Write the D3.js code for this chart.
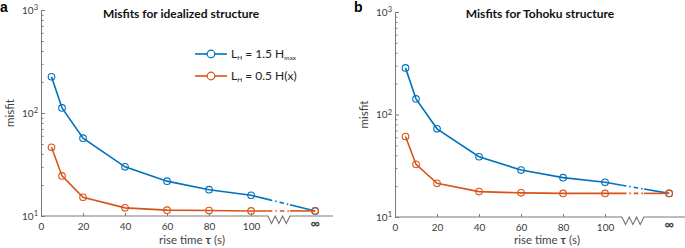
<!DOCTYPE html>
<html>
<head>
<meta charset="utf-8">
<script src="https://cdn.jsdelivr.net/npm/d3@7"></script>
<style>
  body { margin: 0; background: #fff; }
  svg { display: block; font-family: Lato, "Open Sans", sans-serif; }
  .axis text { fill: #3a3a3a; font-size: 10px; font-family: Lato, sans-serif; }
  .axis line { stroke: #7a7a7a; }
  .title { font-size: 12px; font-weight: bold; fill: #111; }
  .label { font-size: 11.5px; fill: #444; }
</style>
</head>
<body>
<div id="chart"></div>
<script>
// x positions (rise time in s); the last point sits at "infinity"
var riseTimes = [5, 10, 20, 40, 60, 80, 100];
var infPos = 130.5;             // where the infinity point is put on the axis
var xTickValues = [0, 20, 40, 60, 80, 100];
var yTickValues = [10, 100, 1000];
var breakRange = [108, 118.5];  // broken part of the x axis

// panel a: idealized structure (last value = infinity)
var idealWide = [225, 112, 57, 30, 21.8, 18, 15.9, 11.2];
var idealLocal = [46.5, 24.5, 15.2, 12, 11.4, 11.3, 11.2, 11.2];
// panel b: Tohoku structure
var tohokuWide = [285, 142, 72.5, 38.7, 28.7, 24.2, 21.8, 17.0];
var tohokuLocal = [61, 32.7, 21.3, 17.7, 17.2, 17.0, 17.0, 17.0];

var seriesColors = ["#0072BD", "#D95319"];

var svg = d3.select("#chart").append("svg")
    .attr("width", 685)
    .attr("height", 248);

function MisfitPanel(_parentElement, _data, _config) {
  this.parentElement = _parentElement;
  this.data = _data;
  this.config = _config;
  this.initVis();
}

MisfitPanel.prototype.initVis = function () {
  var vis = this;
  var c = vis.config;

  vis.g = vis.parentElement.append("g")
      .attr("transform", "translate(" + c.left + ",0)");

  vis.x = d3.scaleLinear().domain([0, 139]).range([0, 292]);
  vis.y = d3.scaleLog().domain([10, 1000]).range([c.bottom, c.top]);

  vis.renderVis();
};

MisfitPanel.prototype.renderVis = function () {
  var vis = this;
  var c = vis.config;
  var x = vis.x, y = vis.y;

  // minor log ticks
  var minors = [];
  [10, 100].forEach(function (d) {
    for (var k = 2; k <= 9; k++) minors.push(d * k);
  });
  vis.g.append("g")
      .attr("class", "axis")
      .call(d3.axisLeft(y).tickValues(minors).tickSize(-2.5).tickFormat(""))
      .call(function (g) { g.select(".domain").remove(); });

  // y axis with 10^n labels
  var yAxis = vis.g.append("g")
      .attr("class", "axis")
      .call(d3.axisLeft(y).tickValues(yTickValues).tickSizeInner(-4).tickSizeOuter(0).tickPadding(3));
  yAxis.select(".domain").attr("stroke", "#7a7a7a");
  yAxis.selectAll(".tick text").each(function (d) {
    var t = d3.select(this).text("10");
    t.append("tspan")
        .attr("dy", "-0.45em")
        .attr("font-size", "7.5px")
        .text(Math.round(Math.log10(d)));
  }).attr("font-family", "'Liberation Serif', serif").attr("font-size", "10.5px");

  // x axis (ticks only; the line is drawn by hand to get the break)
  var xAxis = vis.g.append("g")
      .attr("class", "axis")
      .attr("transform", "translate(0," + c.bottom + ")")
      .call(d3.axisBottom(x).tickValues(xTickValues).tickSize(-3).tickPadding(5));
  xAxis.select(".domain").remove();
  xAxis.selectAll(".tick text").attr("font-size", "11px").attr("dy", "0.85em");

  var zz = [];
  var step = (breakRange[1] - breakRange[0]) / 6;
  for (var i = 0; i <= 6; i++) {
    zz.push([breakRange[0] + i * step, i % 2 === 1 ? 7.5 : 0]);
  }
  var axisLine = d3.line()
      .x(function (d) { return x(d[0]); })
      .y(function (d) { return c.bottom + d[1]; });
  vis.g.append("path")
      .attr("d", axisLine([[0, 0]].concat(zz).concat([[139, 0]])))
      .attr("fill", "none")
      .attr("stroke", "#7a7a7a")
      .attr("stroke-width", 1.2);

  vis.g.append("text")
      .attr("x", x(infPos))
      .attr("y", c.bottom + 12)
      .attr("text-anchor", "middle")
      .attr("font-size", "13px")
      .attr("font-weight", "bold")
      .attr("fill", "#444")
      .text("\u221E");

  // series
  var line = d3.line()
      .x(function (d) { return x(d[0]); })
      .y(function (d) { return y(d[1]); });

  vis.data.forEach(function (vals, si) {
    var color = seriesColors[si];
    var pts = riseTimes.map(function (t, i) { return [t, vals[i]]; });
    var last = pts[pts.length - 1];
    var inf = [infPos, vals[vals.length - 1]];
    // straight line in screen space between 100 and infinity (log interp)
    var at = function (xv) {
      var f = (xv - last[0]) / (inf[0] - last[0]);
      return [xv, Math.pow(10, Math.log10(last[1]) + f * (Math.log10(inf[1]) - Math.log10(last[1])))];
    };
    var b0 = at(breakRange[0]), b1 = at(breakRange[1]);

    vis.g.append("path")
        .attr("d", line(pts.concat([b0])))
        .attr("fill", "none").attr("stroke", color).attr("stroke-width", 1.6);
    vis.g.append("path")
        .attr("d", line([b0, b1]))
        .attr("fill", "none").attr("stroke", color).attr("stroke-width", 1.6)
        .attr("stroke-dasharray", "4.5,3,1.5,3");
    vis.g.append("path")
        .attr("d", line([b1, inf]))
        .attr("fill", "none").attr("stroke", color).attr("stroke-width", 1.6);

    vis.g.selectAll("circle.s" + si)
        .data(pts.concat([inf]))
        .enter().append("circle")
        .attr("class", "s" + si)
        .attr("cx", function (d) { return x(d[0]); })
        .attr("cy", function (d) { return y(d[1]); })
        .attr("r", 3.3)
        .attr("fill", "none")
        .attr("stroke", color)
        .attr("stroke-width", 1.1);
  });

  // title, labels, panel letter
  vis.g.append("text")
      .attr("class", "title")
      .attr("x", c.titleX)
      .attr("y", 18)
      .attr("text-anchor", "middle")
      .text(c.title);
  vis.g.append("text")
      .attr("class", "label")
      .attr("transform", "translate(-27," + y(100) + ") rotate(-90)")
      .attr("text-anchor", "middle")
      .text("misfit");
  var xl = vis.g.append("text")
      .attr("class", "label")
      .attr("x", c.xLabelX)
      .attr("y", 244)
      .attr("text-anchor", "middle");
  xl.append("tspan").text("rise time ");
  xl.append("tspan").attr("font-weight", "bold").text("\u03C4");
  xl.append("tspan").text(" (s)");
  vis.g.append("text")
      .attr("x", -41)
      .attr("y", 12)
      .attr("font-size", "14px")
      .attr("font-weight", "bold")
      .attr("font-family", "'Liberation Sans', Arial, sans-serif")
      .text(c.letter);
};

var panelA = new MisfitPanel(svg, [idealWide, idealLocal], {
  left: 41, top: 10, bottom: 216,
  title: "Misfits for idealized structure", titleX: 140, xLabelX: 151, letter: "a"
});
var panelB = new MisfitPanel(svg, [tohokuWide, tohokuLocal], {
  left: 395, top: 12, bottom: 217,
  title: "Misfits for Tohoku structure", titleX: 145, xLabelX: 152, letter: "b"
});

// legend (panel a only)
var legendLabels = [["L", "H", " = 1.5 H", "max"], ["L", "H", " = 0.5 H(x)", ""]];
var legend = panelA.g.append("g").attr("transform", "translate(154,54)");
legendLabels.forEach(function (lab, i) {
  var row = legend.append("g").attr("transform", "translate(0," + i * 22 + ")");
  row.append("line")
      .attr("x1", 0).attr("x2", 32)
      .attr("stroke", seriesColors[i]).attr("stroke-width", 1.6);
  row.append("circle")
      .attr("cx", 16).attr("r", 3.8)
      .attr("fill", "#fff").attr("stroke", seriesColors[i]).attr("stroke-width", 1.2);
  var t = row.append("text")
      .attr("x", 36).attr("y", 4)
      .attr("font-size", "12px").attr("fill", "#222");
  t.append("tspan").text(lab[0]);
  t.append("tspan").attr("font-size", "6.5px").attr("dy", "2").text(lab[1]);
  t.append("tspan").attr("dy", "-2").text(lab[2]);
  if (lab[3]) t.append("tspan").attr("font-size", "6.5px").attr("dy", "2").text(lab[3]);
});
</script>
</body>
</html>
